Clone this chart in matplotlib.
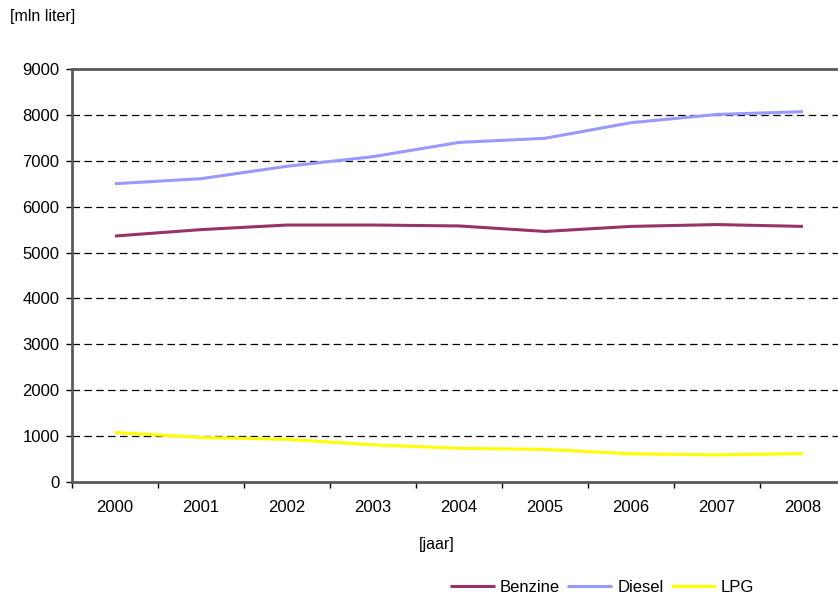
import matplotlib
matplotlib.use("Agg")
from matplotlib import pyplot as plt
from matplotlib.ticker import FixedLocator, MultipleLocator

# values (mln liter)
years = ['2000', '2001', '2002', '2003', '2004', '2005', '2006', '2007', '2008']
benzine = [5360, 5500, 5600, 5600, 5580, 5460, 5570, 5610, 5570]
diesel = [6500, 6610, 6880, 7090, 7400, 7490, 7830, 8010, 8070]
lpg = [1080, 970, 930, 810, 735, 710, 615, 590, 620]

plt.rcParams['font.family'] = ['Liberation Sans', 'DejaVu Sans']

f = plt.figure(figsize=(8.38, 5.96), dpi=100)
# plot area runs a little past the right edge of the picture, like the original
ax1 = f.add_axes([72/838, (596-482)/596, (846-72)/838, (482-69)/596])

xs = list(range(len(years)))
ax1.plot(xs, benzine, color='#993366', lw=2.2, label='Benzine', solid_capstyle='butt')
ax1.plot(xs, diesel, color='#9999FF', lw=2.2, label='Diesel', solid_capstyle='butt')
ax1.plot(xs, lpg, color='#FFFF00', lw=2.2, label='LPG', solid_capstyle='butt')

ax1.set_xlim(-0.5, len(years) - 0.5)
ax1.set_ylim(0, 9000)
ax1.yaxis.set_major_locator(MultipleLocator(1000))

# category ticks sit between the years
ax1.set_xticks(xs)
ax1.set_xticklabels(years)
ax1.xaxis.set_minor_locator(FixedLocator([i - 0.5 for i in range(len(years) + 1)]))
ax1.tick_params(axis='x', which='major', length=0, pad=13, labelsize=12)
ax1.tick_params(axis='x', which='minor', length=4, width=1, direction='out', color='black')
ax1.tick_params(axis='y', length=4, width=1, direction='out', pad=5, labelsize=12)

for y in range(1000, 9000, 1000):
    ax1.axhline(y, color='black', lw=0.9, dashes=(6, 3.5), zorder=0.5)

for s in ['top', 'left', 'bottom']:
    ax1.spines[s].set_color('#5a5a5a')
    ax1.spines[s].set_linewidth(2)
ax1.spines['right'].set_visible(False)

f.text(10/838, 1 - 17/596, '[mln liter]', fontsize=11.5, ha='left', va='center')
f.text(437/838, 1 - 545/596, '[jaar]', fontsize=11.5, ha='center', va='center')

f.legend(loc='center', bbox_to_anchor=(602/838, 1 - 587/596), ncol=3, frameon=False,
         fontsize=12, handlelength=2.7, handletextpad=0.3, columnspacing=0.45,
         borderpad=0, borderaxespad=0)

f.savefig('out.png', dpi=100)
